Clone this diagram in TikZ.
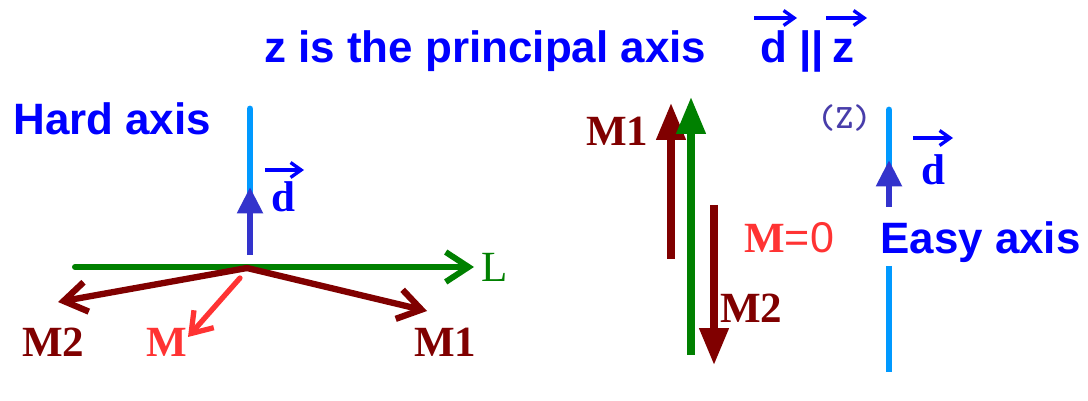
\documentclass[tikz,border=0pt]{standalone}
\usepackage{fontspec}
\usetikzlibrary{arrows.meta}
\newfontfamily\sansfnt{Liberation Sans}
\newfontfamily\seriffnt{Liberation Serif}
\definecolor{txtblue}{RGB}{0,0,255}
\definecolor{axblue}{RGB}{0,153,255}
\definecolor{dblue}{RGB}{51,51,204}
\definecolor{mdark}{RGB}{128,0,0}
\definecolor{lgreen}{RGB}{0,128,0}
\definecolor{mlight}{RGB}{255,51,51}
\definecolor{zcol}{RGB}{72,61,170}
\begin{document}
\begin{tikzpicture}[x=0.02cm, y=-0.02cm, inner sep=0pt,
  slbl/.style={font=\sansfnt\bfseries\fontsize{25}{30}\selectfont, text=txtblue, anchor=base west},
  rlbl/.style={font=\seriffnt\bfseries\fontsize{24.5}{29}\selectfont, anchor=base west},
  axline/.style={draw=axblue, line width=3.9pt, line cap=round},
  darr/.style={draw=dblue, line width=3.6pt, -{Triangle[length=15pt,width=14pt]}},
  barr/.style={line width=3.6pt, line cap=round, -{Straight Barb[length=13pt,width=17pt]}},
  tarr/.style={line width=4pt, -{Triangle[length=21pt,width=16pt]}},
  vecarr/.style={draw=txtblue, line width=1.9pt, -{Straight Barb[length=6pt,width=8.5pt]}}]
\fill[white] (0,0) rectangle (1088,401);
\useasboundingbox (0,0) rectangle (1088,401);
% title
\node[slbl] (title) at (264,63) {z is the principal axis};
\node[slbl] (td) at (760,63) {d};
\node[slbl] (tbar) at (799,63) {||};
\node[slbl] (tz) at (832,63) {z};
\draw[vecarr] ([shift={(-6,-45)}]td.base west) -- ([shift={(37,-45)}]td.base west);
\draw[vecarr] ([shift={(-6,-45)}]tz.base west) -- ([shift={(35,-45)}]tz.base west);
% left: hard axis
\node[slbl] (hard) at (13,135) {Hard axis};
\coordinate (O) at (247,268);
\coordinate (hTop) at (250,109);
\coordinate (hBot) at (250,200);
\coordinate (hd0) at (250,255);
\coordinate (hd1) at (250,187);
\coordinate (L0) at (75,267);
\coordinate (L1) at (474,267);
\coordinate (m2tip) at (58,302);
\coordinate (m1tip) at (427,311);
\coordinate (M0) at (240,278);
\coordinate (Mtip) at (188,337);
\draw[axline] (hTop) -- (hBot);
\draw[darr] (hd0) -- (hd1);
\draw[barr, draw=lgreen, line width=3.4pt] (L0) -- (L1);
\draw[barr, draw=mdark] (O) -- (m2tip);
\draw[barr, draw=mdark] (O) -- (m1tip);
\draw[barr, draw=mlight, line width=3pt, -{Straight Barb[length=11pt,width=15pt]}] (M0) -- (Mtip);
\node[rlbl, text=txtblue] (hdl) at (271,212) {d};
\draw[vecarr] ([shift={(-6,-42)}]hdl.base west) -- ([shift={(33,-42)}]hdl.base west);
\node[rlbl, text=lgreen, font=\seriffnt\fontsize{24.5}{29}\selectfont] (Llbl) at (481,282) {L};
\node[rlbl, text=mdark] (m2l) at (22,357) {M2};
\node[rlbl, text=mlight] (ml) at (146,357) {M};
\node[rlbl, text=mdark] (m1l) at (414,357) {M1};
% middle: M1, L, M2
\coordinate (a1) at (671,259);
\coordinate (a1t) at (671,103);
\coordinate (g0) at (691,355);
\coordinate (g1) at (691,97);
\coordinate (a2) at (714,205);
\coordinate (a2t) at (714,365);
\draw[tarr, draw=mdark] (a1) -- (a1t);
\draw[tarr, draw=lgreen] (g0) -- (g1);
\draw[tarr, draw=mdark] (a2) -- (a2t);
\node[rlbl, text=mdark] (c1l) at (586,146) {M1};
\node[rlbl, text=mlight] (mzero) at (744,253) {M{\sansfnt\mdseries =0}};
\node[rlbl, text=mdark] (c2l) at (720,323) {M2};
% right: easy axis
\node[anchor=base west, text=zcol, font=\ttfamily\bfseries\fontsize{19.5}{23}\selectfont] (zl) at (817,129) {(Z)};
\coordinate (eTop) at (889,110);
\coordinate (eMid) at (889,166);
\coordinate (ed0) at (889,207);
\coordinate (ed1) at (889,160);
\coordinate (eLo0) at (889,266);
\coordinate (eLo1) at (889,372);
\draw[axline] (eTop) -- (eMid);
\draw[darr] (ed0) -- (ed1);
\draw[axline, line cap=butt] (eLo0) -- (eLo1);
\node[rlbl, text=txtblue] (edl) at (921,185) {d};
\draw[vecarr] ([shift={(-8,-47)}]edl.base west) -- ([shift={(32,-47)}]edl.base west);
\node[slbl] (easy) at (880,254) {Easy axis};
\end{tikzpicture}
\end{document}
